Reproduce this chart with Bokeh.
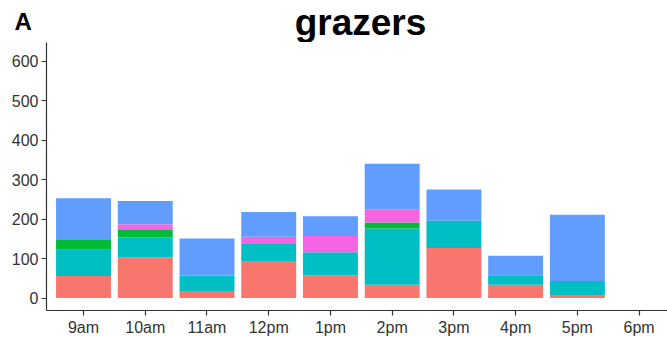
from bokeh.plotting import figure
from bokeh.layouts import column
from bokeh.models import Range1d, FixedTicker, Label, ColumnDataSource
from bokeh.embed import file_html
from bokeh.resources import INLINE

# Hourly counts of grazers, stacked by group
hours = ["9am", "10am", "11am", "12pm", "1pm", "2pm", "3pm", "4pm", "5pm", "6pm"]
group_a = [56, 103, 16, 92, 58, 34, 127, 34, 6, 0]     # red
group_b = [66, 51, 41, 45, 58, 142, 69, 24, 37, 0]     # teal
group_c = [25, 18, 0, 0, 0, 15, 0, 0, 0, 0]            # green
group_d = [0, 15, 0, 18, 41, 33, 0, 0, 0, 0]           # pink
group_e = [106, 59, 94, 63, 50, 116, 79, 49, 168, 0]   # blue
y_ticks = [0, 100, 200, 300, 400, 500, 600]

groups = ["a", "b", "c", "d", "e"]
colors = ["#F8766D", "#00BFC4", "#00BA38", "#F564E3", "#619CFF"]

font = "Liberation Sans"
axis_color = "#333333"

# Heading strip: panel letter and title
head = figure(width=667, height=42, output_backend="svg", toolbar_location=None,
              x_range=Range1d(0, 667), y_range=Range1d(0, 42),
              min_border=0, x_axis_type=None, y_axis_type=None)
head.frame_align = False
head.outline_line_color = None
head.grid.visible = False
head.add_layout(Label(x=14, y=21, text="A", text_font=font,
                      text_font_size="24px", text_font_style="bold",
                      text_color="black", text_align="left",
                      text_baseline="alphabetic"))
head.add_layout(Label(x=360, y=20, text="grazers", text_font=font,
                      text_font_size="37px", text_font_style="bold",
                      text_color="black", text_align="center",
                      text_baseline="alphabetic"))

# Stacked bar panel
xpos = list(range(1, len(hours) + 1))
source = ColumnDataSource(dict(x=xpos, a=group_a, b=group_b, c=group_c,
                               d=group_d, e=group_e))

p = figure(width=667, height=296, output_backend="svg", toolbar_location=None,
           x_range=Range1d(0.4, 10.46), y_range=Range1d(-31.5, 647),
           min_border_left=46, min_border_right=0, min_border_top=0,
           min_border_bottom=25)
p.frame_align = False
p.background_fill_color = "white"
p.border_fill_color = "white"
p.outline_line_color = None
p.grid.visible = False

p.vbar_stack(groups, x="x", width=0.89, source=source, color=colors,
             line_color=None)

p.xaxis.ticker = FixedTicker(ticks=xpos)
p.xaxis.major_label_overrides = {i: h for i, h in zip(xpos, hours)}
p.yaxis.ticker = FixedTicker(ticks=y_ticks)

for ax in (p.xaxis, p.yaxis):
    ax.axis_line_color = axis_color
    ax.axis_line_width = 1.2
    ax.major_tick_line_color = axis_color
    ax.major_tick_line_width = 1.2
    ax.major_tick_in = 0
    ax.major_tick_out = 5
    ax.minor_tick_line_color = None
    ax.major_label_text_font = font
    ax.major_label_text_font_size = "16px"
    ax.major_label_text_color = "#333333"
    ax.major_label_standoff = 3

layout = column(head, p, spacing=0)
open("out.html", "w").write(file_html(layout, INLINE))
